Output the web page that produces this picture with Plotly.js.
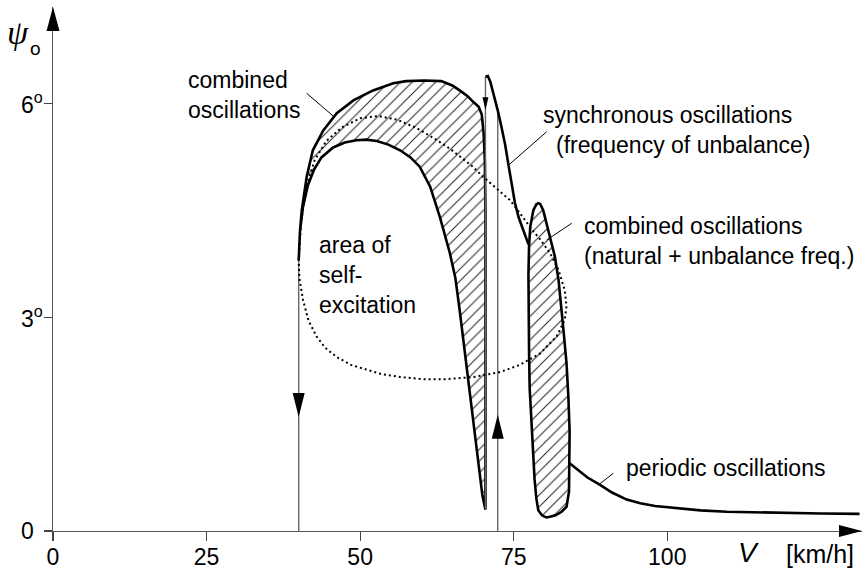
<!DOCTYPE html>
<html><head><meta charset="utf-8">
<script src="https://cdn.plot.ly/plotly-3.0.1.min.js"></script>
<style>html,body{margin:0;padding:0;background:#fff}#chart{width:866px;height:573px}</style>
</head><body><div id="chart"></div>
<script>
// ---------- data (V in km/h, psi in degrees) ----------
const xTickVals = [0, 25, 50, 75, 100];
const xTickText = ['0', '25', '50', '75', '100'];
const yTickVals = [0, 3, 6];
const yTickText = ['0', '3<sup>o</sup>', '6<sup>o</sup>'];

// combined oscillations region (upper & lower boundary)
const outerV   = [40, 40.2, 40.5, 41.3, 42.3, 44.0, 46.2, 48.9, 52.1, 55.4, 57.5, 60.5, 63.2, 65.0, 66.2, 67.5, 68.4, 69.3, 69.8, 70.1, 70.3, 70.4, 70.4, 70.4];
const outerPsi = [3.8, 4.2, 4.5, 4.97, 5.34, 5.62, 5.86, 6.04, 6.18, 6.28, 6.31, 6.32, 6.31, 6.25, 6.18, 6.10, 6.02, 5.95, 5.84, 5.58, 5.2, 4.5, 2.5, 0.3];
const innerV   = [40, 40.2, 40.7, 41.5, 42.5, 43.7, 45.6, 47.5, 49.4, 51.0, 52.7, 54.6, 56.5, 58.2, 59.7, 61.4, 63.0, 64.6, 65.5, 66.2, 67.3, 68.3, 69.2, 69.9, 70.4];
const innerPsi = [3.8, 4.2, 4.55, 4.85, 5.07, 5.24, 5.38, 5.45, 5.48, 5.49, 5.47, 5.42, 5.34, 5.24, 5.11, 4.83, 4.40, 3.90, 3.55, 3.10, 2.3, 1.6, 1.0, 0.5, 0.3];

// area of self-excitation (dotted loop)
const selfV   = [40, 40.4, 41.3, 42.6, 44.5, 47, 50, 53, 56, 59, 62, 64.5, 66.3, 68.2, 70, 72.2, 74.4, 76.0, 77.6, 79.3, 80.9, 82.3, 83.3, 83.6, 83.3, 82.0, 79.3, 76.0, 72.8, 68.5, 64.1, 60, 56.5, 53.5, 51.0, 48.5, 46.2, 44.3, 42.9, 41.6, 40.7, 40.1, 40];
const selfPsi = [3.8, 4.35, 4.85, 5.2, 5.47, 5.66, 5.79, 5.82, 5.77, 5.66, 5.51, 5.37, 5.25, 5.12, 4.97, 4.81, 4.64, 4.46, 4.27, 4.09, 3.90, 3.66, 3.38, 3.15, 2.96, 2.73, 2.49, 2.33, 2.23, 2.16, 2.13, 2.13, 2.16, 2.20, 2.26, 2.33, 2.44, 2.57, 2.73, 2.95, 3.24, 3.55, 3.8];

// synchronous oscillations
const syncV   = [70.4, 70.8, 71.2, 71.7, 72.4, 73.0, 73.6, 74.1, 74.7, 75.2, 75.8, 76.5, 77.4];
const syncPsi = [6.37, 6.38, 6.3, 6.14, 5.9, 5.67, 5.42, 5.16, 4.87, 4.60, 4.40, 4.22, 4.02];

// combined oscillations (natural + unbalance freq.)
const comb2V   = [78.8, 78.2, 77.7, 77.5, 77.4, 77.4, 77.5, 77.6, 77.8, 78.0, 78.2, 78.4, 78.7, 79.0, 79.6, 80.3, 80.9, 81.8, 82.8, 83.6, 84.0, 84.1, 84.1, 83.9, 83.6, 83.1, 82.7, 82.3, 81.7, 80.9, 80.3, 79.8, 79.3, 78.8];
const comb2Psi = [4.60, 4.50, 4.27, 4.0, 3.6, 3.05, 2.5, 2.0, 1.65, 1.3, 1.0, 0.72, 0.45, 0.29, 0.22, 0.19, 0.20, 0.22, 0.27, 0.34, 0.55, 0.95, 1.4, 1.88, 2.35, 2.82, 3.2, 3.52, 3.85, 4.13, 4.35, 4.50, 4.59, 4.60];

// periodic oscillations
const perV   = [84.1, 85.5, 87.0, 89.0, 91.0, 93.4, 95.6, 98, 101.5, 105.4, 109.7, 115, 120, 125, 131.3];
const perPsi = [0.95, 0.85, 0.75, 0.65, 0.54, 0.44, 0.39, 0.35, 0.32, 0.29, 0.27, 0.26, 0.25, 0.245, 0.24];

// jumps (vertical transitions)
const jumpV      = [40, 70.4, 72.4];
const jumpTop    = [3.8, 6.37, 5.9];
const jumpBottom = [0, 0.3, 0];
const arrowPsi   = [1.6, 5.9, 1.63];
const arrowDir   = ['down', 'down', 'up'];

// ---------- geometry helpers (layout pixels -> axis / paper units) ----------
const ML = 53, MR = 4, MT = 7, MB = 42, W = 866, H = 573;
const XMAX = 131.7, YMAX = 7.35;
const PW = W - ML - MR, PH = H - MT - MB;
const px2x = p => (p - ML) / PW * XMAX;
const py2y = p => (H - MB - p) / PH * YMAX;
const px2p = p => (p - ML) / PW;
const py2p = p => (H - MB - p) / PH;

const FONT = 'Liberation Sans, Arial, sans-serif';
const BLACK = '#000';

const traces = [];
const hatch = {shape: '/', fgcolor: '#222', bgcolor: 'rgba(0,0,0,0)', size: 8.3, solidity: 0.12};
// hatched region 1
traces.push({
  x: outerV.concat(innerV.slice().reverse()),
  y: outerPsi.concat(innerPsi.slice().reverse()),
  mode: 'lines', fill: 'toself', fillcolor: 'rgba(0,0,0,0)', fillpattern: hatch,
  line: {color: BLACK, width: 2.6}, hoverinfo: 'skip'
});
// hatched region 2
traces.push({
  x: comb2V, y: comb2Psi,
  mode: 'lines', fill: 'toself', fillcolor: 'rgba(0,0,0,0)', fillpattern: hatch,
  line: {color: BLACK, width: 2.6}, hoverinfo: 'skip'
});
// jump lines
const jx = [], jy = [];
jumpV.forEach((v, i) => { jx.push(v, v, null); jy.push(jumpBottom[i], jumpTop[i], null); });
traces.push({x: jx, y: jy, mode: 'lines', line: {color: '#666', width: 1.4}, hoverinfo: 'skip'});
// dotted self-excitation loop
traces.push({x: selfV, y: selfPsi, mode: 'lines', line: {color: BLACK, width: 2, dash: '2px,3px'}, hoverinfo: 'skip'});
// synchronous
traces.push({x: syncV, y: syncPsi, mode: 'lines', line: {color: BLACK, width: 2.6}, hoverinfo: 'skip'});
// periodic
traces.push({x: perV, y: perPsi, mode: 'lines', line: {color: BLACK, width: 2.6}, hoverinfo: 'skip'});

// arrowheads (pixel-sized shapes anchored at a point)
function headPath(dir, len, half) {
  if (dir === 'down') return `M0,0 L${-half},${len} L${half},${len} Z`;
  if (dir === 'up') return `M0,0 L${-half},${-len} L${half},${-len} Z`;
  return `M0,0 L${-len},${half} L${-len},${-half} Z`;
}
function head(x, y, dir, len, half, ref) {
  return {type: 'path', xref: ref ? 'paper' : 'x', yref: ref ? 'paper' : 'y', xsizemode: 'pixel', ysizemode: 'pixel',
          xanchor: x, yanchor: y, path: headPath(dir, len, half), fillcolor: BLACK, line: {width: 0}, layer: 'above'};
}
const headSizes = [[24, 6], [13, 3], [24, 6]];
const shapes = jumpV.map((v, i) => head(v, arrowPsi[i], arrowDir[i], headSizes[i][0], headSizes[i][1], false));
shapes.push(head(0, 1, 'up', 24, 6.5, true));
shapes.push(head(1, 0, 'right', 23, 6, true));

// leader lines
function leader(x0, y0, x1, y1) {
  return {type: 'line', xref: 'x', yref: 'y', x0: px2x(x0), y0: py2y(y0), x1: px2x(x1), y1: py2y(y1),
          line: {color: BLACK, width: 1}, layer: 'above'};
}
shapes.push(leader(306.7, 93.3, 334, 116.7));
shapes.push(leader(546.7, 131.7, 508.7, 165));
shapes.push(leader(571.7, 223.3, 546.7, 240));
shapes.push(leader(613.3, 473.3, 598.3, 485));

// text annotations (positioned in paper units from layout pixels)
function txt(text, left, top, size, family) {
  return {text: text, xref: 'paper', yref: 'paper', x: px2p(left), y: py2p(top),
    xanchor: 'left', yanchor: 'top', align: 'left', showarrow: false,
    font: {family: family || FONT, size: size, color: BLACK}};
}
const annotations = [
  txt('combined<br>oscillations', 186, 65, 23),
  txt('synchronous oscillations', 541, 100, 23),
  txt('(frequency of unbalance)', 554, 130, 23),
  txt('combined oscillations<br>(natural + unbalance freq.)', 582, 211, 23),
  txt('area of<br>self-<br>excitation', 317, 230, 23),
  txt('periodic oscillations', 624, 453, 23),
  txt('<i>ψ</i>', 5, 12, 34, 'Liberation Serif, serif'),
  txt('o', 28, 36, 19),
  txt('<i>V</i>', 736, 535, 28),
  txt('[km/h]', 784, 538, 25)
];
yTickVals.forEach((v, i) => {
  annotations.push({text: yTickText[i], xref: 'paper', yref: 'y', x: 0, y: v, xshift: -34,
    xanchor: 'left', yanchor: 'middle', showarrow: false, font: {family: FONT, size: 23, color: BLACK}});
});

const layout = {
  width: W, height: H, margin: {l: ML, r: MR, t: MT, b: MB},
  paper_bgcolor: '#fff', plot_bgcolor: '#fff', showlegend: false,
  xaxis: {range: [0, XMAX], tickvals: xTickVals, ticktext: xTickText, ticks: 'outside', ticklen: 9,
          tickwidth: 1.2, tickcolor: '#444', showline: true, linecolor: '#555', linewidth: 1.3,
          ticklabelstandoff: -4,
          showgrid: false, zeroline: false, tickfont: {family: FONT, size: 23, color: BLACK}, fixedrange: true},
  yaxis: {range: [0, YMAX], tickvals: yTickVals, ticks: 'outside', ticklen: 8, tickwidth: 1.2, tickcolor: '#444',
          showticklabels: false, showline: true, linecolor: '#555', linewidth: 1.3,
          showgrid: false, zeroline: false, fixedrange: true},
  shapes: shapes, annotations: annotations
};
Plotly.newPlot('chart', traces, layout, {displayModeBar: false, staticPlot: true});
</script>
</body></html>
